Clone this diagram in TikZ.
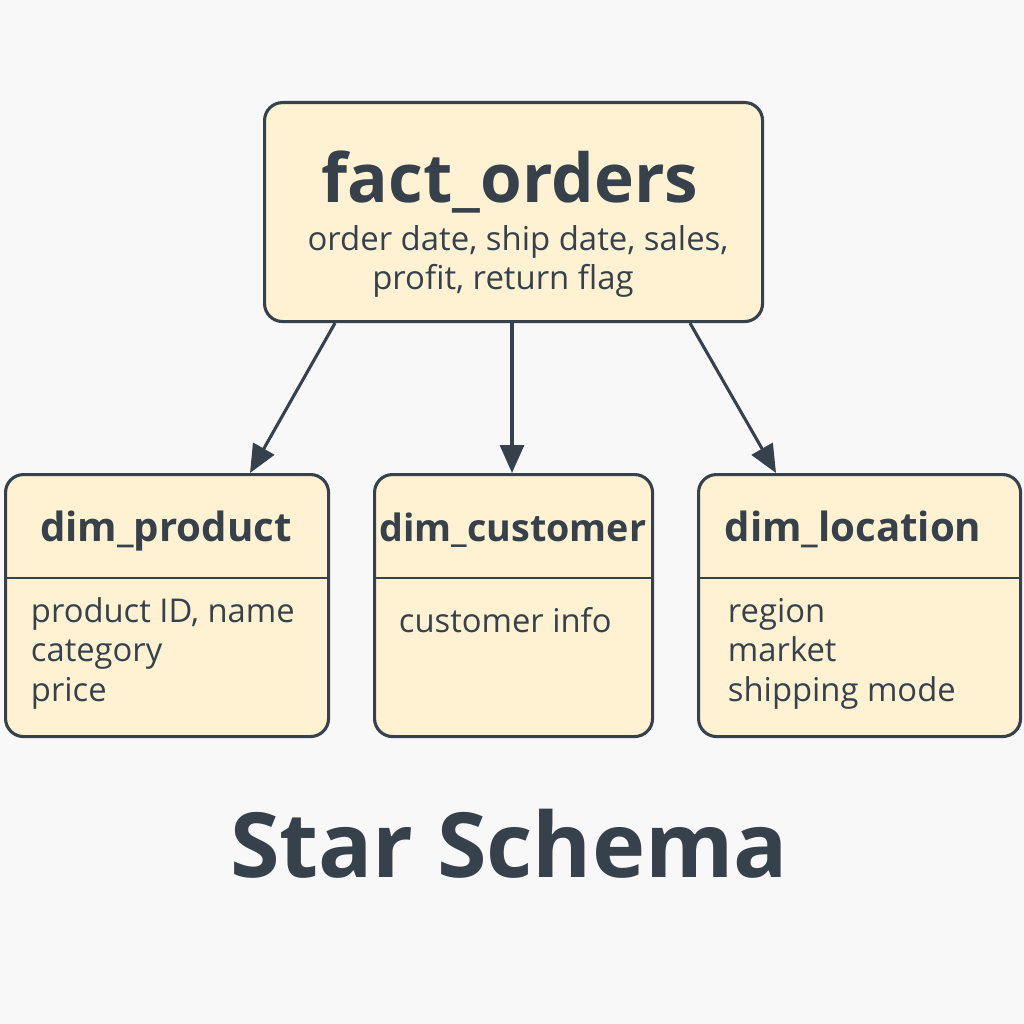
\documentclass[tikz,border=0pt]{standalone}
\usepackage{fontspec}
\setmainfont{Open Sans}
\usetikzlibrary{arrows.meta}
\definecolor{bgcol}{HTML}{F8F8F8}
\definecolor{boxfill}{HTML}{FEF2D3}
\definecolor{ink}{HTML}{36414B}
\begin{document}
\begin{tikzpicture}[x=0.25mm,y=-0.25mm,
  box/.style={draw=ink,fill=boxfill,line width=2.2pt,rounded corners=18*0.25mm,
    inner sep=0pt,anchor=north west},
  arr/.style={draw=ink,line width=2.2pt,-{Triangle[length=7mm,width=6mm]}},
  divider/.style={draw=ink,line width=1.4pt},
  ttl/.style={text=ink,font=\bfseries\fontsize{28.6}{34}\selectfont,anchor=base},
  body/.style={text=ink,font=\fontsize{23.3}{28}\selectfont,anchor=base west},
]
% page and background
\fill[bgcol] (0,0) rectangle (1024,1024);
\useasboundingbox (0,0) rectangle (1024,1024);

% fact table
\node[box,minimum width=498*0.25mm,minimum height=219*0.25mm] (fact) at (263,101) {};
\node[text=ink,font=\bfseries\fontsize{48}{56}\selectfont,anchor=base] (factttl) at (510,203) {fact\_orders};
\node[text=ink,font=\fontsize{23.4}{28}\selectfont,anchor=base] (factl1) at (518,251) {order date, ship date, sales,};
\node[text=ink,font=\fontsize{23.4}{28}\selectfont,anchor=base] (factl2) at (503,290) {profit, return flag};

% dimension tables
\node[box,minimum width=323*0.25mm,minimum height=262*0.25mm] (prod) at (4,473) {};
\node[box,minimum width=278*0.25mm,minimum height=262*0.25mm] (cust) at (373,473) {};
\node[box,minimum width=322*0.25mm,minimum height=262*0.25mm] (loc) at (697,473) {};

\draw[divider] (prod.west |- 0,578) -- (prod.east |- 0,578);
\draw[divider] (cust.west |- 0,578) -- (cust.east |- 0,578);
\draw[divider] (loc.west |- 0,578) -- (loc.east |- 0,578);

\node[ttl] (prodttl) at (166,541) {dim\_product};
\node[ttl,font=\bfseries\fontsize{26.8}{34}\selectfont] (custttl) at (513,541) {dim\_customer};
\node[ttl] (locttl) at (853,541) {dim\_location};

\node[body] (p1) at (26,622) {product ID, name};
\node[body] (p2) at (26,661) {category};
\node[body] (p3) at (26,701) {price};

\node[body] (c1) at (394,632) {customer info};

\node[body] (l1) at (723,622) {region};
\node[body] (l2) at (723,661) {market};
\node[body] (l3) at (723,701) {shipping mode};

% connectors
\draw[arr] (fact.south -| 335,0) -- (prod.north -| 250,0);
\draw[arr] (fact.south -| 512,0) -- (cust.north -| 512,0);
\draw[arr] (fact.south -| 690,0) -- (loc.north -| 776,0);

% caption
\node[text=ink,font=\bfseries\fontsize{64}{74}\selectfont,anchor=base] (caption) at (509,877) {Star Schema};
\end{tikzpicture}
\end{document}
